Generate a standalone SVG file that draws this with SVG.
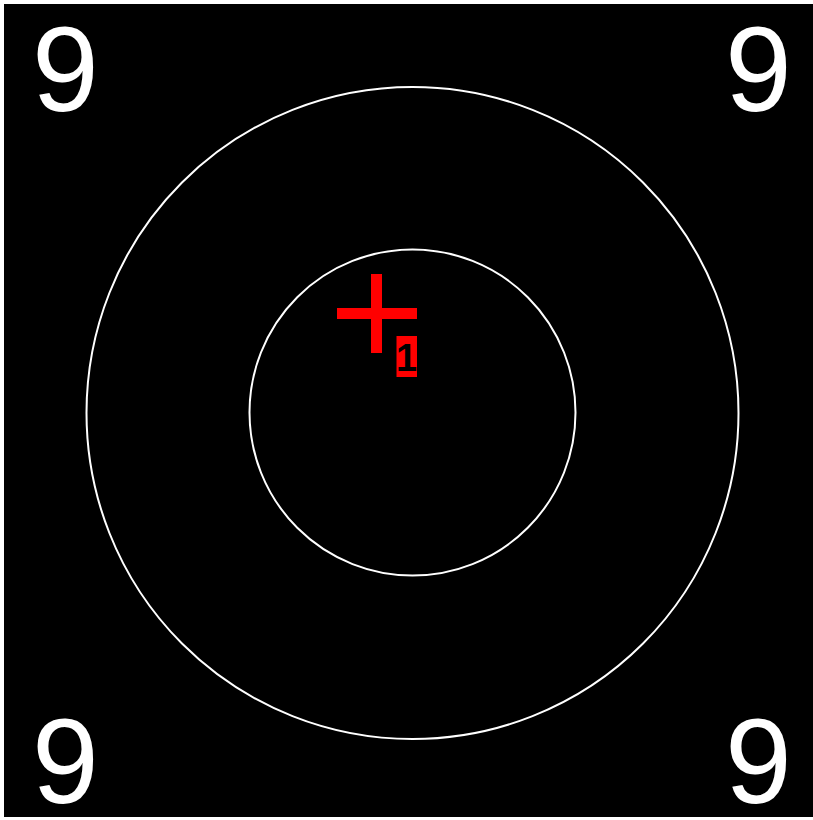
<svg xmlns="http://www.w3.org/2000/svg" width="813" height="820" viewBox="0 0 813 820">
<style>
.num{font-family:"Liberation Sans",Arial,sans-serif;font-size:120px;fill:#fff}
.ring{fill:none;stroke:#fff;stroke-width:2}
.mark{fill:#ff0000}
</style>
<rect x="0" y="0" width="813" height="820" fill="#fff"/>
<rect x="4" y="4" width="809" height="813" fill="#000"/>
<g id="corners">
<text class="num" x="32" y="111">9</text>
<text class="num" x="725" y="111">9</text>
<text class="num" x="32" y="803">9</text>
<text class="num" x="725" y="803">9</text>
</g>
<g id="rings">
<circle class="ring" cx="412.5" cy="413" r="326"/>
<circle class="ring" cx="412.5" cy="412.5" r="163"/>
</g>
<g id="marker">
<rect class="mark" x="371" y="274" width="11" height="79"/>
<rect class="mark" x="337" y="308" width="80" height="11"/>
<rect class="mark" x="396.5" y="336" width="20.5" height="41"/>
<text x="406.5" y="371" font-family="Liberation Sans,Arial,sans-serif" font-weight="bold" font-size="38" text-anchor="middle" fill="#000">1</text>
</g>
</svg>
